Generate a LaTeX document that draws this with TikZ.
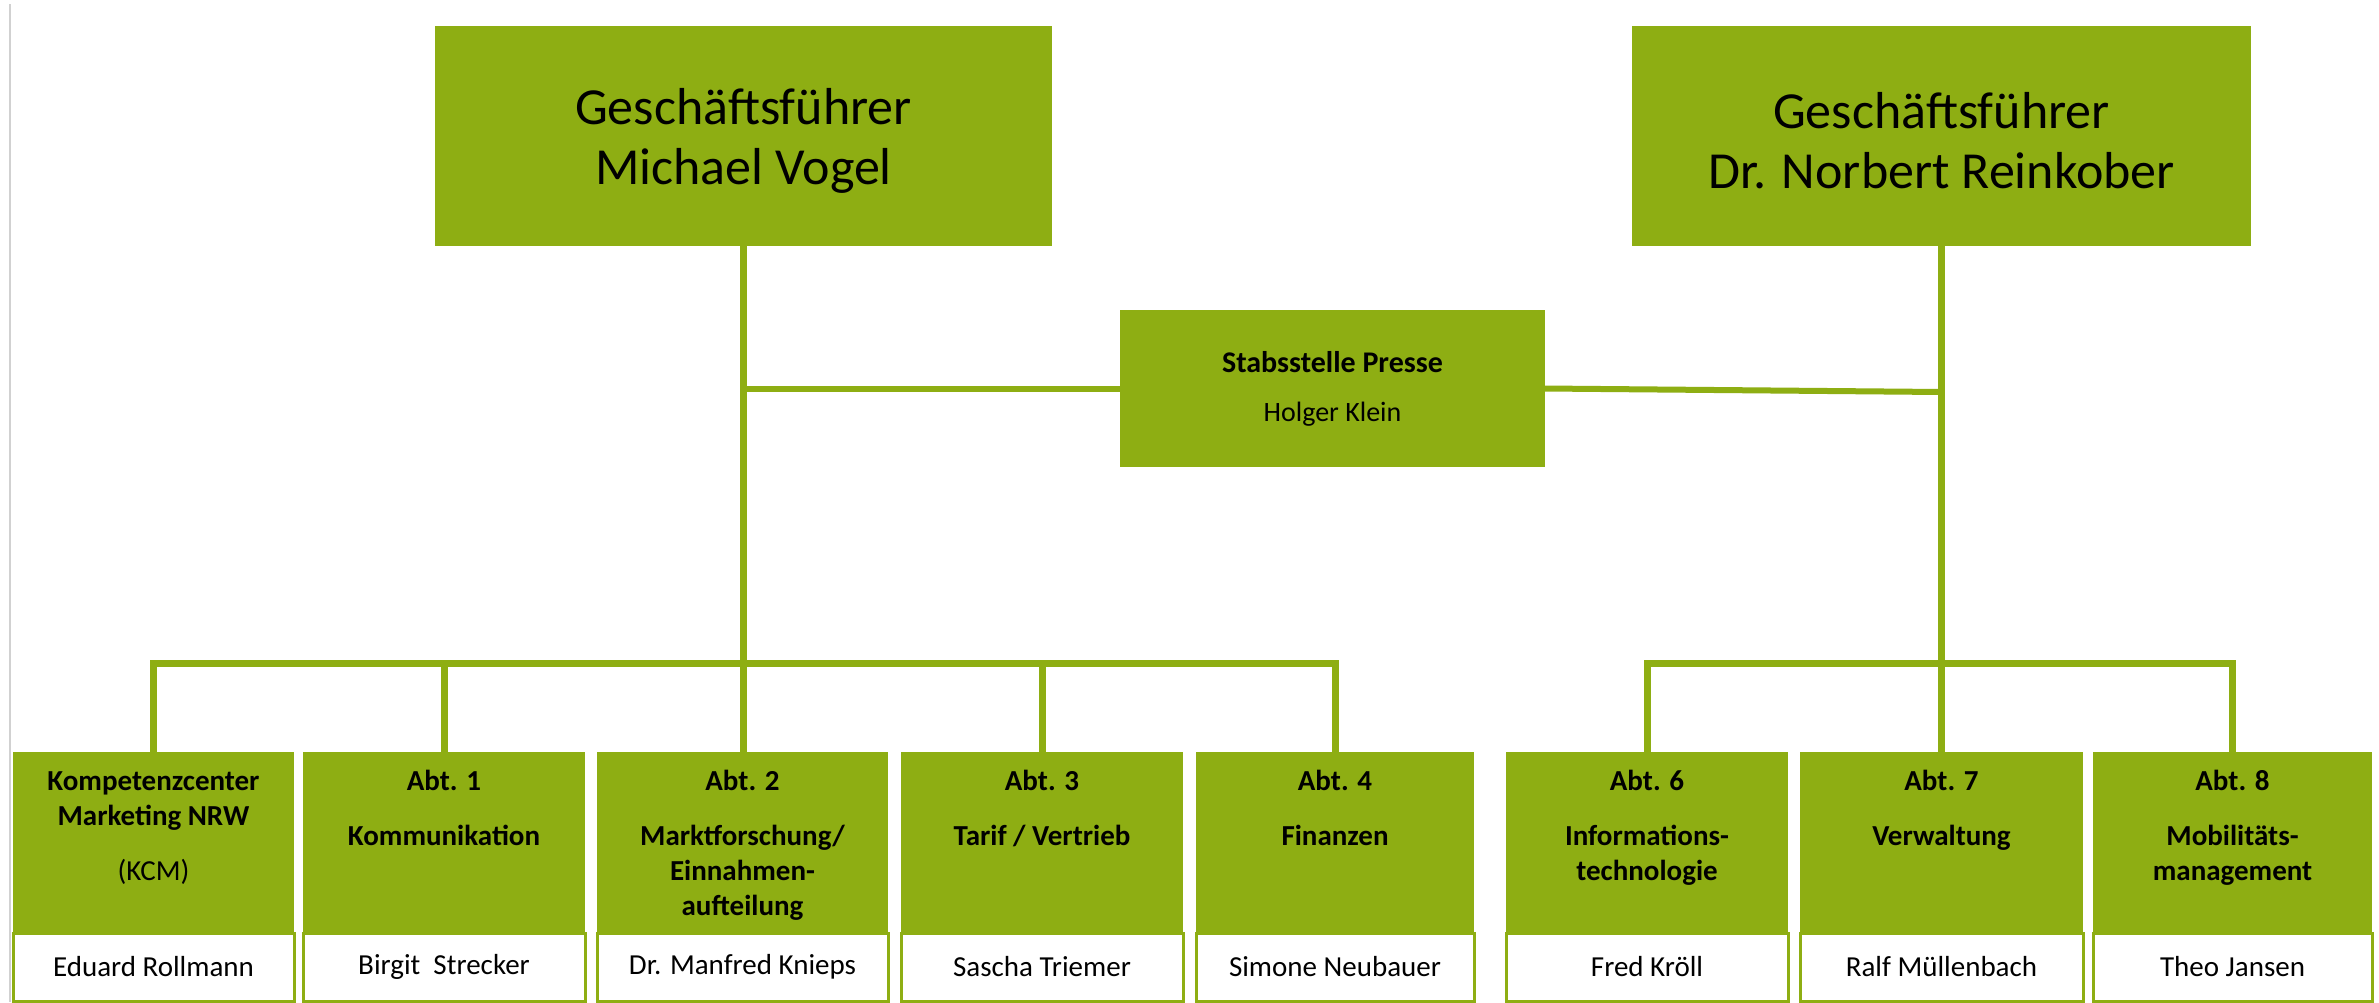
\documentclass[tikz,border=0pt]{standalone}
\usepackage{fontspec}
\setmainfont{Carlito}
\definecolor{vrrgreen}{RGB}{142,174,19}
\newcommand\topfont{\fontsize{52}{60}\selectfont}
\newcommand\deptfont{\fontsize{29}{35}\selectfont\bfseries}
\newcommand\namefont{\fontsize{29}{34}\selectfont}
\newcommand\stabfont{\fontsize{30}{34}\selectfont}
\begin{document}
\begin{tikzpicture}[x=1pt,y=-1pt,
  gbox/.style={fill=vrrgreen, draw=none, inner sep=0pt, outer sep=0pt, anchor=north west},
  wbox/.style={fill=white, draw=vrrgreen, line width=3pt, inner sep=0pt, outer sep=0pt, anchor=north west, font=\namefont},
  dtext/.style={inner sep=0pt, anchor=north, align=center, font=\deptfont},
  conn/.style={draw=vrrgreen, line width=7pt},
  sconn/.style={draw=vrrgreen, line width=6pt}]
\useasboundingbox (0,0) rectangle (2379,1002);
\fill[white] (0,0) rectangle (2379,1002);
\draw[black!18, line width=2pt] (10,4) -- (10,1002);

% top boxes
\node[gbox, minimum width=617, minimum height=220, align=center, font=\topfont] (gf1) at (435,26) {\rule{0pt}{46pt}Geschäftsführer\\Michael Vogel};
\node[gbox, minimum width=619, minimum height=220, align=center, font=\topfont] (gf2) at (1632,26) {\rule{0pt}{46pt}Geschäftsführer\\Dr. Norbert Reinkober};

% staff
\node[gbox, minimum width=425, minimum height=157, align=center, font=\stabfont] (stab) at (1120,310)
  {\bfseries Stabsstelle Presse\\[15pt]\fontsize{28}{34}\selectfont Holger Klein};

% departments
\newcommand\deptbox[5]{%
  \node[gbox, minimum width=#3, minimum height=181] (#1) at (#2,752) {};
  \node[wbox, minimum width=#3, minimum height=68] (#1p) at (#2,933) {#5};
  \node[dtext] (#1t) at ([yshift=-17pt]#1.north) {\rule{0pt}{21pt}#4};
}
\deptbox{b1}{13}{281}{Kompetenzcenter\\Marketing NRW\\[20pt]{\mdseries (KCM)}}{Eduard Rollmann}
\deptbox{b2}{303}{282}{Abt. 1\\[20pt]Kommunikation}{Birgit\ \ Strecker}
\deptbox{b3}{597}{291}{Abt. 2\\[20pt]Marktforschung/\\Einnahmen-\\aufteilung}{Dr. Manfred Knieps}
\deptbox{b4}{901}{282}{Abt. 3\\[20pt]Tarif / Vertrieb}{Sascha Triemer}
\deptbox{b5}{1196}{278}{Abt. 4\\[20pt]Finanzen}{Simone Neubauer}
\deptbox{b6}{1506}{282}{Abt. 6\\[20pt]Informations-\\technologie}{Fred Kröll}
\deptbox{b7}{1800}{283}{Abt. 7\\[20pt]Verwaltung}{Ralf Müllenbach}
\deptbox{b8}{2093}{279}{Abt. 8\\[20pt]Mobilitäts-\\management}{Theo Jansen}

% connectors
\coordinate (bus) at (0,663);
\draw[conn] (gf1.south) -- (gf1.south |- b3.north);
\draw[conn] (b1.north) |- (bus -| b5.north) -- (b5.north);
\draw[conn] (b2.north) -- (b2.north |- bus);
\draw[conn] (b4.north) -- (b4.north |- bus);
\draw[conn] (gf2.south) -- (gf2.south |- b7.north);
\draw[conn] (b6.north) |- (bus -| b8.north) -- (b8.north);
\coordinate (sr) at (1941.5,392);
\draw[sconn] (gf1.south |- stab.west) -- (stab.west);
\draw[sconn] (stab.east) -- (sr);
\end{tikzpicture}
\end{document}
